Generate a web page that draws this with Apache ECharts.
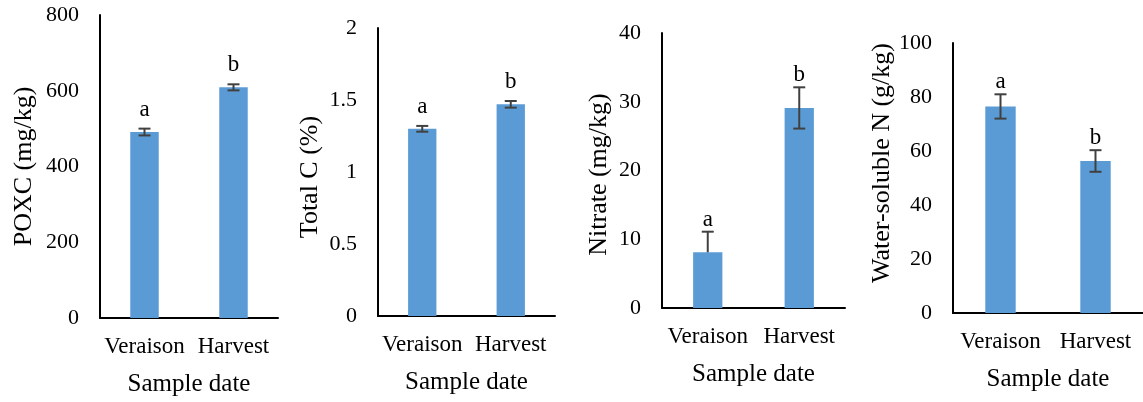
<!DOCTYPE html>
<html>
<head>
<meta charset="utf-8">
<script src="https://cdn.jsdelivr.net/npm/echarts@6/dist/echarts.min.js"></script>
<style>
  html, body { margin: 0; padding: 0; background: #fff; }
  #container { width: 1143px; height: 402px; }
</style>
</head>
<body>
<div id="container"></div>
<script>
// sample dates
var categories = ['Veraison', 'Harvest'];

// POXC (mg/kg)
var poxcValues = [491, 609];
var poxcErrUp = [9, 8];
var poxcErrDown = [9, 8];
var poxcLetters = ['a', 'b'];

// Total C (%)
var totalCValues = [1.30, 1.47];
var totalCErrUp = [0.02, 0.023];
var totalCErrDown = [0.02, 0.023];
var totalCLetters = ['a', 'b'];

// Nitrate (mg/kg) - veraison only shows the upper half of its error bar
var nitrateValues = [8.1, 29.1];
var nitrateErrUp = [3, 3];
var nitrateErrDown = [0, 3];
var nitrateLetters = ['a', 'b'];

// Water-soluble N (g/kg)
var wsnValues = [76.5, 56.3];
var wsnErrUp = [4.5, 4];
var wsnErrDown = [4.5, 4];
var wsnLetters = ['a', 'b'];

// axis ticks
var poxcTicks = { max: 800, interval: 200 };
var totalCTicks = { max: 2, interval: 0.5 };
var nitrateTicks = { max: 40, interval: 10 };
var wsnTicks = { max: 100, interval: 20 };

var FONT = 'Liberation Serif';
var BAR_COLOR = '#5B9BD5';
var ERR_COLOR = '#404040';

// namePad shifts the rotated y title along the axis (left = up, right = down)
var panels = [
    { name: 'POXC (mg/kg)', values: poxcValues, up: poxcErrUp, down: poxcErrDown, letters: poxcLetters, ticks: poxcTicks,
      grid: { left: 100, top: 15, width: 178, height: 305 }, nameGap: 63, namePad: [0, 0, 0, 0], letterGap: 19 },
    { name: 'Total C (%)', values: totalCValues, up: totalCErrUp, down: totalCErrDown, letters: totalCLetters, ticks: totalCTicks,
      grid: { left: 378, top: 28, width: 177, height: 288 }, nameGap: 55, namePad: [0, 10, 0, 0], letterGap: 19 },
    { name: 'Nitrate (mg/kg)', values: nitrateValues, up: nitrateErrUp, down: nitrateErrDown, letters: nitrateLetters, ticks: nitrateTicks,
      grid: { left: 662, top: 33, width: 183, height: 275 }, nameGap: 50, namePad: [0, 8, 0, 0], letterGap: 12 },
    { name: 'Water-soluble N (g/kg)', values: wsnValues, up: wsnErrUp, down: wsnErrDown, letters: wsnLetters, ticks: wsnTicks,
      grid: { left: 953, top: 43, width: 190, height: 270 }, nameGap: 56, namePad: [0, 0, 0, 30], letterGap: 12 }
];

function makeErrorRender(panel) {
    return function (params, api) {
        var idx = api.value(0);
        var v = api.value(1);
        var hi = api.coord([idx, v + panel.up[idx]]);
        var lo = api.coord([idx, v - panel.down[idx]]);
        var cap = 6;
        var children = [
            { type: 'line', shape: { x1: hi[0], y1: hi[1], x2: lo[0], y2: lo[1] },
              style: { stroke: ERR_COLOR, lineWidth: 2 } },
            { type: 'line', shape: { x1: hi[0] - cap, y1: hi[1], x2: hi[0] + cap, y2: hi[1] },
              style: { stroke: ERR_COLOR, lineWidth: 2 } }
        ];
        if (panel.down[idx] > 0) {
            children.push({ type: 'line', shape: { x1: lo[0] - cap, y1: lo[1], x2: lo[0] + cap, y2: lo[1] },
              style: { stroke: ERR_COLOR, lineWidth: 2 } });
        }
        // significance letter above the error bar
        children.push({ type: 'text', x: hi[0], y: hi[1] - panel.letterGap,
            style: { text: panel.letters[idx], align: 'center', verticalAlign: 'middle',
                     fontSize: 23, fontFamily: FONT, fill: '#000' } });
        return { type: 'group', children: children };
    };
}

var dom = document.getElementById('container');
var myChart = echarts.init(dom);
var option = {
    backgroundColor: '#fff', animation: false,
    textStyle: { fontFamily: FONT, color: '#000' },
    grid: [], xAxis: [], yAxis: [], series: []
};

for (var i = 0; i < panels.length; i++) {
    var p = panels[i];
    option.grid.push(p.grid);
    option.xAxis.push({
        type: 'category', gridIndex: i, data: categories,
        name: 'Sample date', nameLocation: 'middle', nameGap: 54,
        nameTextStyle: { fontSize: 25, fontFamily: FONT, color: '#000' },
        axisLine: { lineStyle: { color: '#000', width: 2 } },
        axisTick: { show: false },
        axisLabel: { fontSize: 23, fontFamily: FONT, color: '#000', margin: 17, interval: 0 }
    });
    option.yAxis.push({
        type: 'value', gridIndex: i, min: 0, max: p.ticks.max, interval: p.ticks.interval,
        name: p.name, nameLocation: 'middle', nameGap: p.nameGap, nameRotate: 90,
        nameTextStyle: { fontSize: 26, fontFamily: FONT, color: '#000', padding: p.namePad },
        axisLine: { show: true, lineStyle: { color: '#000', width: 2 } },
        axisTick: { show: false },
        splitLine: { show: false },
        axisLabel: { fontSize: 22, fontFamily: FONT, color: '#000', margin: 21 }
    });
    option.series.push({
        type: 'bar', xAxisIndex: i, yAxisIndex: i, data: p.values,
        barWidth: '32%', itemStyle: { color: BAR_COLOR }
    });
    var errData = [];
    for (var j = 0; j < p.values.length; j++) {
        errData.push([j, p.values[j]]);
    }
    option.series.push({
        type: 'custom', xAxisIndex: i, yAxisIndex: i, data: errData,
        renderItem: makeErrorRender(p), z: 5
    });
}

if (option && typeof option === 'object') {
    myChart.setOption(option, true);
}
</script>
</body>
</html>
